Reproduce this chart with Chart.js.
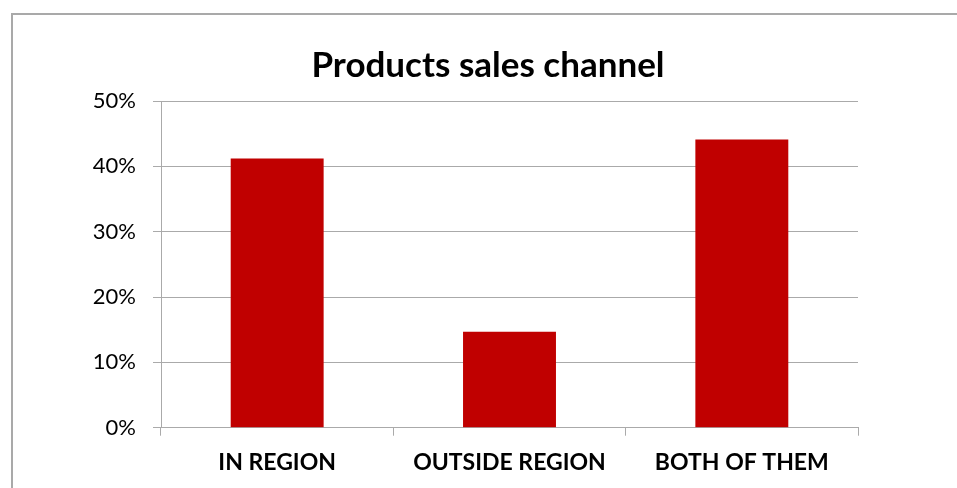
<!DOCTYPE html>
<html>
<head>
<meta charset="utf-8">
<script src="https://cdn.jsdelivr.net/npm/chart.js@4/dist/chart.umd.min.js"></script>
<style>
  html, body { margin: 0; padding: 0; background: #fff; overflow: hidden; }
  #wrap { position: absolute; left: 0; top: 0; width: 957px; height: 488px; }
</style>
</head>
<body>
<div id="wrap"><canvas id="c" width="957" height="488"></canvas></div>
<script>
const categories = ["IN REGION", "OUTSIDE REGION", "BOTH OF THEM"];
const salesShare = [41.2, 14.7, 44.1];
const yTicks = [0, 10, 20, 30, 40, 50];
const chartTitle = "Products sales channel";

const FONT = "Lato, 'Open Sans', sans-serif";
const gridColor = "#aaaaaa";

const framePlugin = {
  id: "frame",
  beforeDraw(chart) {
    const ctx = chart.ctx;
    ctx.save();
    ctx.strokeStyle = "#a9a9a9";
    ctx.lineWidth = 2;
    ctx.beginPath();
    ctx.moveTo(12, chart.height);
    ctx.lineTo(12, 14);
    ctx.lineTo(chart.width, 14);
    ctx.stroke();
    ctx.restore();
  }
};

const titlePlugin = {
  id: "centeredTitle",
  afterDraw(chart) {
    const ctx = chart.ctx;
    ctx.save();
    ctx.font = "bold 35px " + FONT;
    ctx.fillStyle = "#000";
    ctx.textAlign = "center";
    ctx.textBaseline = "alphabetic";
    ctx.fillText(chartTitle, 488, 77);
    ctx.restore();
  }
};

new Chart(document.getElementById("c"), {
  type: "bar",
  data: {
    labels: categories,
    datasets: [{
      data: salesShare,
      backgroundColor: "#C00000",
      borderWidth: 0,
      categoryPercentage: 1.0,
      barPercentage: 0.4
    }]
  },
  plugins: [framePlugin, titlePlugin],
  options: {
    responsive: false,
    animation: false,
    events: [],
    layout: { padding: { left: 0, right: 99, top: 101, bottom: 0 } },
    plugins: {
      legend: { display: false },
      tooltip: { enabled: false },
      title: { display: false }
    },
    scales: {
      x: {
        grid: { display: true, drawOnChartArea: false, drawTicks: true, tickLength: 8, color: gridColor, offset: true },
        border: { display: true, color: gridColor, width: 1 },
        ticks: { color: "#000", font: { family: FONT, size: 23, weight: "bold" }, padding: 13, maxRotation: 0 },
        afterFit: (s) => { s.height = 60.3; }
      },
      y: {
        min: 0, max: 50,
        afterBuildTicks: (s) => { s.ticks = yTicks.map(v => ({ value: v })); },
        grid: { color: gridColor, tickLength: 8, drawTicks: true },
        border: { display: true, color: gridColor, width: 1 },
        ticks: { color: "#000", font: { family: FONT, size: 22 }, padding: 17, callback: (v) => v + "%" },
        afterFit: (s) => { s.width = 161; }
      }
    }
  }
});
</script>
</body>
</html>
